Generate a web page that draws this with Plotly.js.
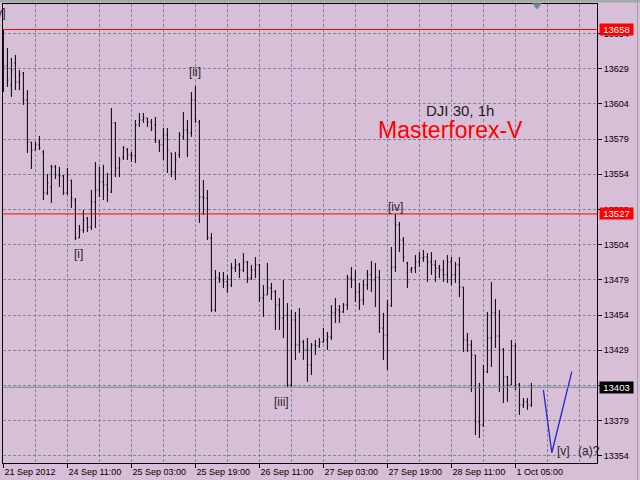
<!DOCTYPE html>
<html>
<head>
<meta charset="utf-8">
<script src="https://cdn.plot.ly/plotly-3.0.1.min.js"></script>
<style>html,body{margin:0;padding:0;background:#D8BFD8;}#chart{width:640px;height:480px;}</style>
</head>
<body>
<div id="chart"></div>
<script>
// DJI 30, 1h bars
const openV = [13650.5,13632.1,13618.6,13634.2,13620.7,13627.1,13607.9,13578.1,13572.4,13576.0,
13571.0,13541.9,13546.1,13560.4,13554.7,13554.0,13541.9,13551.1,13536.9,13509.9,
13515.6,13524.1,13517.7,13535.5,13544.0,13549.7,13547.6,13542.6,13591.6,13559.6,
13567.4,13572.4,13568.9,13568.2,13590.2,13593.7,13595.2,13592.3,13590.2,13578.1,
13576.0,13583.1,13570.3,13556.8,13568.9,13581.7,13586.6,13584.5,13607.9,13592.3,
13539.0,13538.3,13509.9,13458.8,13481.5,13480.1,13478.7,13476.5,13488.6,13490.8,
13487.2,13492.9,13481.5,13487.2,13490.8,13467.3,13469.4,13474.4,13471.6,13462.3,
13453.1,13455.0,13405.5,13451.7,13433.9,13436.0,13430.4,13419.7,13433.9,13433.2,
13436.1,13437.5,13439.6,13456.7,13458.8,13457.4,13462.3,13481.5,13480.1,13471.6,
13465.9,13476.5,13483.7,13480.0,13482.0,13446.0,13441.0,13462.0,13489.3,13519.2,
13508.5,13492.0,13487.2,13488.6,13492.9,13495.7,13496.4,13492.9,13490.8,13488.6,
13487.2,13483.7,13492.9,13483.7,13490.8,13475.1,13437.5,13433.9,13426.8,13379.2,
13377.1,13414.7,13438.9,13456.7,13440.3,13430.4,13411.2,13405.5,13433.2,13405.5,
13391.3,13393.5,13391.3];
const highV = [13658.0,13644.9,13637.8,13639.9,13629.2,13627.8,13615.0,13578.1,13578.1,13582.4,
13572.4,13555.4,13561.8,13561.8,13560.4,13554.7,13559.6,13551.1,13538.3,13519.2,
13529.8,13524.8,13544.0,13563.9,13560.4,13561.8,13556.1,13602.2,13592.3,13567.4,
13575.3,13573.8,13571.0,13593.7,13598.7,13598.7,13595.2,13594.4,13595.9,13579.5,
13588.0,13588.0,13570.3,13571.0,13585.2,13599.4,13593.7,13613.6,13617.9,13593.7,
13551.1,13544.0,13513.5,13487.2,13485.8,13485.8,13483.7,13492.2,13495.0,13492.2,
13499.2,13493.6,13490.8,13496.4,13491.5,13476.5,13492.2,13478.0,13473.0,13467.3,
13480.1,13463.7,13458.8,13457.4,13460.2,13437.5,13438.9,13435.4,13437.5,13438.9,
13446.0,13443.2,13462.3,13467.3,13462.3,13463.7,13483.7,13489.3,13487.2,13478.0,
13480.1,13487.2,13493.6,13492.2,13487.2,13456.7,13465.9,13503.5,13527.0,13521.3,
13510.6,13493.0,13489.3,13497.8,13499.9,13501.4,13499.2,13499.9,13494.3,13490.8,
13494.3,13497.8,13496.4,13492.9,13496.4,13475.1,13442.5,13437.5,13426.8,13407.0,
13419.7,13457.4,13478.7,13466.6,13458.8,13431.8,13412.0,13437.5,13435.4,13407.0,
13396.3,13396.3,13407.0];
const lowV = [13613.6,13617.2,13610.1,13615.0,13615.0,13604.4,13570.3,13558.9,13572.4,13572.4,
13536.9,13540.5,13534.8,13551.8,13546.1,13540.5,13540.5,13531.2,13508.5,13509.9,
13513.5,13514.2,13515.6,13517.0,13539.0,13536.9,13535.5,13541.9,13553.2,13553.2,
13565.3,13565.3,13563.9,13563.2,13588.7,13591.6,13588.7,13585.9,13577.4,13571.0,
13565.3,13556.1,13553.2,13551.1,13566.7,13579.5,13567.4,13581.7,13591.6,13520.6,
13526.3,13508.5,13457.4,13457.4,13478.0,13474.4,13470.9,13475.1,13485.8,13481.5,
13485.8,13478.0,13480.1,13481.5,13464.4,13453.8,13469.4,13465.9,13444.6,13444.6,
13438.9,13404.1,13404.1,13423.3,13428.3,13423.3,13407.7,13412.6,13426.8,13432.0,
13435.4,13430.4,13437.5,13449.6,13449.6,13456.7,13458.8,13474.4,13464.4,13458.8,
13462.3,13473.0,13471.6,13460.9,13442.5,13423.3,13416.2,13460.9,13485.8,13499.9,
13492.9,13474.4,13485.1,13485.1,13489.3,13492.9,13478.7,13483.7,13478.7,13481.5,
13478.7,13478.0,13476.5,13478.0,13468.0,13429.0,13429.0,13400.5,13370.0,13367.9,
13375.7,13414.0,13418.3,13431.8,13400.5,13392.7,13393.5,13405.5,13402.0,13384.2,
13389.2,13387.8,13389.9];
const closeV = [13632.1,13622.1,13629.2,13620.7,13625.7,13607.9,13578.1,13572.4,13576.0,13573.8,
13541.9,13549.0,13560.4,13554.7,13554.0,13541.9,13554.7,13538.3,13509.9,13515.6,
13522.7,13517.7,13535.5,13544.0,13549.7,13547.6,13544.0,13591.6,13559.6,13565.3,
13573.8,13568.9,13568.2,13590.2,13593.7,13595.2,13592.3,13588.0,13579.5,13576.0,
13583.1,13572.4,13556.8,13565.3,13583.1,13586.6,13584.5,13607.9,13593.7,13539.0,
13538.3,13509.9,13458.8,13481.5,13480.1,13478.7,13476.5,13488.6,13490.8,13487.2,
13492.9,13481.5,13487.2,13490.8,13467.3,13469.4,13474.4,13471.6,13462.3,13453.1,
13455.0,13405.5,13451.7,13433.9,13436.0,13430.4,13419.7,13433.9,13433.2,13436.1,
13437.5,13439.6,13456.7,13458.8,13457.4,13462.3,13481.5,13480.1,13471.6,13465.9,
13476.5,13483.7,13480.0,13482.0,13446.0,13441.0,13462.0,13489.3,13519.2,13508.5,
13496.4,13478.7,13488.6,13492.9,13495.7,13496.4,13492.9,13490.8,13488.6,13487.2,
13483.7,13492.9,13483.7,13490.8,13475.1,13437.5,13433.9,13426.8,13379.2,13377.1,
13414.7,13438.9,13456.7,13440.3,13430.4,13411.2,13405.5,13433.2,13405.5,13391.3,
13393.5,13391.3,13403.9];

const xTickPos = [0,16,32,48,64,80,96,112,128];
const xTickLabels = ['21 Sep 2012','24 Sep 11:00','25 Sep 03:00','25 Sep 19:00','26 Sep 11:00','27 Sep 03:00','27 Sep 19:00','28 Sep 11:00','1 Oct 05:00'];
const xMinorPos = [8,24,40,56,72,88,104,120,136,144];
const yTickLabels = [13354,13379,13404,13429,13454,13479,13504,13529,13554,13579,13604,13629,13654];
const yHiddenLabel = 13404; // fully covered by the bid box in the picture

const redLevels = [13658, 13527];
const bidPrice = 13403.9;

// forecast path (blue)
const fcX = [135.0, 137.1, 142.1];
const fcY = [13402.0, 13357.4, 13415.0];

// wave labels
const waveText = ['[v]','[i]','[ii]','[iii]','[iv]','[v]','(a)?'];
const waveX = [1.2, 18.8, 47.9, 69.6, 97.9, 139.9, 146.3];
const waveY = [13669.7, 13498.6, 13627.8, 13393.4, 13531.9, 13358.6, 13358.6];

const idx = openV.map((_, i) => i);
const GRID = '#7a8899';
const FONT = 'Liberation Sans, Arial, sans-serif';

const traces = [
  {type:'ohlc', x: idx, open: openV, high: highV, low: lowV, close: closeV,
   increasing:{line:{color:'#000000', width:1}}, decreasing:{line:{color:'#000000', width:1}},
   tickwidth: 0.25, hoverinfo:'skip'},
  {type:'scatter', mode:'lines', x: fcX, y: fcY, line:{color:'#2424d0', width:1.3}, hoverinfo:'skip'}
];

const shapes = [];
redLevels.forEach(v => shapes.push({type:'line', xref:'paper', x0:0, x1:1, yref:'y', y0:v, y1:v, line:{color:'#ff0000', width:1}}));
shapes.push({type:'line', xref:'paper', x0:0, x1:1, yref:'y', y0:bidPrice, y1:bidPrice, line:{color:'#6f8b8f', width:1}});
// top frame strip and shift marker
shapes.push({type:'rect', xref:'paper', yref:'paper', x0:-0.01, x1:1.08, y0:1+1.5/459, y1:1+6/459, fillcolor:'#a8a8a8', line:{width:0}, layer:'below'});
shapes.push({type:'path', xref:'paper', yref:'paper', path:'M 0.8906 1.0015 L 0.9074 1.0015 L 0.899 0.9880 Z', fillcolor:'#778899', line:{width:0}});
shapes.push({type:'line', xref:'paper', yref:'paper', x0:1.0682, x1:1.0682, y0:-0.05, y1:1.02, line:{color:'#a0a0a0', width:1}});

const annotations = [];
waveText.forEach((t, i) => annotations.push({
  x: waveX[i], y: waveY[i], xref:'x', yref:'y', text: t, showarrow:false,
  xanchor: i === 0 ? 'right' : 'center', yanchor:'middle',
  font:{family: FONT, size:12, color:'#262626'}
}));
function priceBox(v, label, bg) {
  return {x:1, xref:'paper', y:v, yref:'y', xanchor:'left', yanchor:'middle', xshift:2,
    text: label, showarrow:false, bgcolor:bg, width:31, height:9, borderpad:1,
    font:{family: FONT, size:9.5, color:'#ffffff'}};
}
annotations.push(priceBox(redLevels[0], String(redLevels[0]), '#ff0000'));
annotations.push(priceBox(redLevels[1], String(redLevels[1]), '#ff0000'));
annotations.push(priceBox(bidPrice, String(Math.floor(bidPrice)), '#000000'));
annotations.push({x:(459.5-3)/594, y:(463-110)/459, xref:'paper', yref:'paper', text:'DJI 30, 1h', showarrow:false,
  xanchor:'center', yanchor:'middle', font:{family: FONT, size:15, color:'#202020'}});
annotations.push({x:(450-3)/594, y:(463-130)/459, xref:'paper', yref:'paper', text:'Masterforex-V', showarrow:false,
  xanchor:'center', yanchor:'middle', font:{family: FONT, size:23, color:'#ff0000'}});

const layout = {
  width:640, height:480,
  margin:{l:3, r:43, t:4, b:17, pad:0},
  paper_bgcolor:'#D8BFD8', plot_bgcolor:'#D8BFD8',
  showlegend:false,
  font:{family: FONT, size:9, color:'#000000'},
  xaxis:{
    range:[-0.1, 148.4], tickmode:'array', tickvals: xTickPos, ticktext: xTickLabels,
    ticks:'outside', ticklen:4, tickcolor:'#000000',
    ticklabelposition:'outside right',
    showline:true, mirror:true, linecolor:'#000000', linewidth:1,
    showgrid:true, gridcolor: GRID, griddash:'3px,2px', gridwidth:1,
    zeroline:false, rangeslider:{visible:false},
    tickfont:{family: FONT, size:9, color:'#000000'},
    minor:{tickvals: xMinorPos, showgrid:true, gridcolor: GRID, griddash:'3px,2px', gridwidth:1, ticks:''}
  },
  yaxis:{
    side:'right', range:[13350.1, 13676.1], tickmode:'array',
    tickvals: yTickLabels.map(v => v + 1.15),
    ticktext: yTickLabels.map(v => v === yHiddenLabel ? '' : String(v)),
    ticks:'outside', ticklen:4, tickcolor:'#000000',
    showline:true, mirror:true, linecolor:'#000000', linewidth:1,
    showgrid:true, gridcolor: GRID, griddash:'3px,2px', gridwidth:1,
    zeroline:false,
    tickfont:{family: FONT, size:9, color:'#000000'}
  },
  shapes: shapes,
  annotations: annotations
};

Plotly.newPlot('chart', traces, layout, {displayModeBar:false, staticPlot:true});
</script>
</body>
</html>
